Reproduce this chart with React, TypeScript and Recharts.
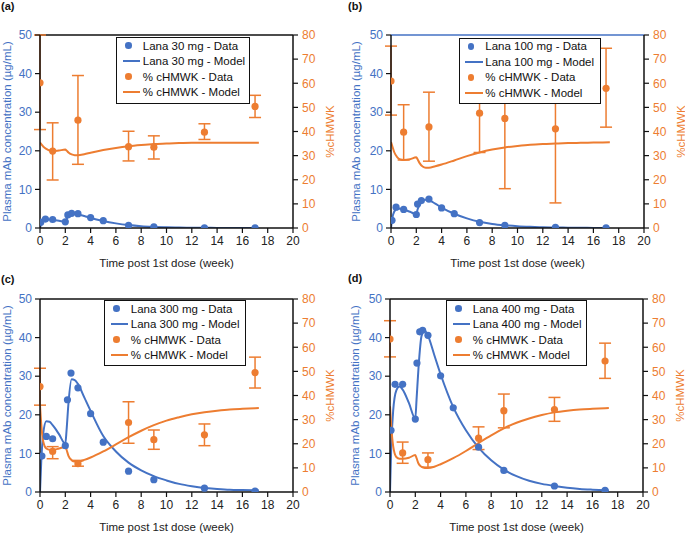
import React from 'react';
import {
  ComposedChart,
  Line,
  Scatter,
  XAxis,
  YAxis,
  ErrorBar,
  ReferenceLine,
  Legend,
} from 'recharts';

const BLUE = '#4472C4';
const ORANGE = '#ED7D31';

const X_TICKS = [0, 2, 4, 6, 8, 10, 12, 14, 16, 18, 20];
const LEFT_TICKS = [0, 10, 20, 30, 40, 50];
const RIGHT_TICKS = [0, 10, 20, 30, 40, 50, 60, 70, 80];

// PK data (plasma mAb, ug/mL)
const pkTimesA = [0.06, 0.43, 1, 2, 2.2, 2.5, 3, 4, 5, 7, 9, 13, 17];
const pkValsA = [1.5, 2.3, 2.2, 1.6, 3.4, 3.8, 3.7, 2.7, 1.9, 0.7, 0.3, 0.05, 0.02];
const pkTimesB = [0.08, 0.4, 1, 2, 2.1, 2.4, 3, 4, 5, 7, 9, 13, 17];
const pkValsB = [2.0, 5.4, 4.8, 3.5, 6.2, 7.1, 7.5, 5.2, 3.7, 1.4, 0.7, 0.2, 0.05];
const pkTimesC = [0.15, 0.5, 1, 2, 2.17, 2.45, 3, 4, 5, 7, 9, 13, 17];
const pkValsC = [9.3, 14.4, 13.8, 12.0, 23.9, 30.8, 27.0, 20.3, 12.9, 5.4, 3.2, 1.0, 0.26];
const pkTimesD = [0.08, 0.4, 1, 2, 2.13, 2.35, 2.58, 3, 4, 5, 7, 9, 13, 17];
const pkValsD = [16.0, 27.9, 27.9, 18.9, 33.4, 41.5, 41.9, 40.6, 30.1, 21.8, 11.6, 5.6, 1.56, 0.43];

// %cHMWK data with error bar ends
const pdTimes = [0, 1, 3, 7, 9, 13, 17];
const pdValsA = [60.2, 31.9, 44.7, 33.7, 33.5, 39.7, 50.4];
const pdHiA = [80, 43.6, 63.2, 40.1, 38.2, 43.2, 55];
const pdLoA = [40.8, 19.9, 26.4, 27.8, 28.6, 36.7, 45.8];
const pdValsB = [60.9, 39.7, 41.9, 47.6, 45.4, 41.1, 57.9];
const pdHiB = [75.4, 51.1, 56.3, 63.9, 74.5, 71.8, 74.5];
const pdLoB = [46.8, 28.2, 27.7, 31.3, 16.3, 10.4, 41.8];
const pdValsC = [43.7, 16.8, 11.7, 28.8, 21.7, 23.7, 49.5];
const pdHiC = [51.3, 18.8, 13.1, 37.4, 25.7, 28.2, 55.9];
const pdLoC = [36, 13.8, 10.7, 20.2, 17.7, 19.2, 43.1];
const pdValsD = [63.4, 16.2, 13.4, 22.3, 33.7, 34.2, 54.3];
const pdHiD = [71, 20.7, 16.2, 27, 40.6, 39.2, 61.7];
const pdLoD = [56, 11.9, 10.3, 17.6, 26.6, 29.3, 47.1];

// model curves
const modelTimes = [0, 0.1, 0.25, 0.5, 0.75, 1, 1.5, 2, 2.1, 2.25, 2.5, 2.75, 3, 3.5, 4, 5, 6, 7, 8, 9, 10, 11, 12, 13, 14, 15, 16, 17.3];
const pkModelA = [0, 1.0, 1.7, 2.1, 2.2, 2.1, 1.9, 1.6, 2.3, 3.0, 3.6, 3.6, 3.5, 3.1, 2.6, 1.8, 1.2, 0.75, 0.45, 0.28, 0.17, 0.1, 0.06, 0.04, 0.03, 0.02, 0.01, 0.01];
const pdModelA = [35.4, 34.8, 33.8, 32.8, 32.1, 31.8, 32.1, 32.5, 32.1, 31.3, 30.5, 30.2, 30.2, 30.6, 31.2, 32.3, 33.2, 33.9, 34.4, 34.8, 35.0, 35.2, 35.3, 35.3, 35.3, 35.3, 35.3, 35.3];
const pkModelB = [0, 2.5, 4.2, 5.0, 5.0, 4.8, 4.2, 3.6, 4.8, 6.0, 7.0, 7.3, 7.2, 6.3, 5.3, 3.7, 2.5, 1.6, 1.05, 0.7, 0.45, 0.3, 0.2, 0.13, 0.08, 0.05, 0.03, 0.02];
const pdModelB = [35.6, 34, 31.5, 29.3, 28.4, 28.2, 28.5, 29.3, 28.5, 27, 25.5, 25, 25, 25.6, 26.3, 28, 29.8, 31.3, 32.5, 33.4, 34, 34.5, 34.8, 35, 35.2, 35.3, 35.4, 35.5];
const pkModelC = [0, 8, 15, 18.3, 18.2, 17.3, 15, 12.5, 16, 23, 29.2, 29, 28, 24.5, 21, 14.5, 10.5, 7.6, 5.6, 4.1, 3.0, 2.1, 1.5, 1.05, 0.8, 0.6, 0.5, 0.4];
const pdModelC = [36, 28, 21, 18, 17.5, 17.5, 18, 18.8, 17.5, 15, 13.2, 12.6, 12.6, 13.3, 14.3, 16.8, 19.7, 22.7, 25.4, 27.7, 29.6, 31, 32.2, 33.1, 33.7, 34.2, 34.5, 34.8];
const pkModelD = [0, 12, 21, 26.3, 27.3, 26.5, 23, 19, 24, 32, 40.5, 41.8, 40.5, 35.5, 30.5, 22, 16, 11.5, 8.2, 5.8, 4.1, 2.9, 2.1, 1.55, 1.1, 0.8, 0.6, 0.4];
const pdModelD = [35.5, 27, 19, 14.5, 13.8, 13.8, 14.2, 15.3, 14, 11.8, 10.4, 10, 10, 10.5, 11.5, 14, 17, 20.3, 23.5, 26.4, 28.7, 30.5, 31.9, 33, 33.7, 34.2, 34.5, 34.8];

const FONT = '"Liberation Sans", Arial, Helvetica, sans-serif';

const VTitle = ({ px, py, text, color }: any) => (
  <text
    x={px}
    y={py}
    transform={`rotate(-90 ${px} ${py})`}
    textAnchor="middle"
    dominantBaseline="central"
    fill={color}
    fontSize={11.5}
    fontFamily={FONT}
  >
    {text}
  </text>
);

const XTitle = () => (
  <text x={166.5} y={263} textAnchor="middle" dominantBaseline="central" fill="#222" fontSize={11.5} fontFamily={FONT}>
    Time post 1st dose (week)
  </text>
);

const LegendBox = ({ dose }: { dose: string }) => {
  const rows = [
    { kind: 'dot', color: BLUE, text: `Lana ${dose} mg - Data` },
    { kind: 'line', color: BLUE, text: `Lana ${dose} mg - Model` },
    { kind: 'dot', color: ORANGE, text: '% cHMWK - Data' },
    { kind: 'line', color: ORANGE, text: '% cHMWK - Model' },
  ];
  return (
    <div
      style={{
        background: '#fff',
        border: '1.5px solid #111',
        boxSizing: 'border-box',
        width: '100%',
        height: '100%',
        fontFamily: FONT,
        fontSize: 11.5,
        color: '#111',
      }}
    >
      {rows.map((r, i) => (
        <div key={i} style={{ height: 15.5, display: 'flex', alignItems: 'center', position: 'relative' }}>
          {r.kind === 'dot' ? (
            <span
              style={{
                position: 'absolute',
                left: 8.3,
                width: 6.6,
                height: 6.6,
                borderRadius: '50%',
                background: r.color,
              }}
            />
          ) : (
            <span style={{ position: 'absolute', left: 5.5, width: 17.5, height: 2, background: r.color }} />
          )}
          <span style={{ position: 'absolute', left: 25.8, whiteSpace: 'nowrap' }}>{r.text}</span>
        </div>
      ))}
    </div>
  );
};

const dotShape = (color: string) => (p: any) => <circle cx={p.cx} cy={p.cy} r={3.6} fill={color} />;

function Panel(props: any) {
  const { ox, oy, tag, tagPos, dose, pkT, pkV, pdV, pdLo, pdHi, mPk, mPd, leg, topColor, yTitleX } = props;
  const pk = pkT.map((t: number, i: number) => ({ t, v: pkV[i] }));
  const pd = pdTimes.map((t, i) => ({ t, v: pdV[i], err: [pdV[i] - pdLo[i], pdHi[i] - pdV[i]] }));
  const model = modelTimes.map((t, i) => ({ t, pk: mPk[i], pd: mPd[i] }));

  return (
    <div style={{ position: 'absolute', left: ox, top: oy, width: 340, height: 272 }}>
      <div
        style={{
          position: 'absolute',
          left: tagPos[0],
          top: tagPos[1],
          fontFamily: FONT,
          fontWeight: 'bold',
          fontSize: 11,
          color: '#111',
        }}
      >
        {tag}
      </div>
      <ComposedChart width={340} height={272} margin={{ top: 35, right: 0, bottom: 0, left: 0 }} style={{ fontFamily: FONT }}>
        <XAxis
          type="number"
          dataKey="t"
          domain={[0, 20]}
          ticks={X_TICKS}
          height={44}
          tick={{ fill: '#222', fontSize: 12 }}
          tickSize={5}
          tickMargin={3}
          axisLine={{ stroke: '#111', strokeWidth: 1.5 }}
          tickLine={{ stroke: '#111', strokeWidth: 1.2 }}
          allowDataOverflow
          label={<XTitle />}
        />
        <YAxis
          yAxisId="left"
          width={40}
          domain={[0, 50]}
          ticks={LEFT_TICKS}
          tick={{ fill: BLUE, fontSize: 12 }}
          tickSize={5}
          tickMargin={3}
          axisLine={{ stroke: '#111', strokeWidth: 1.5 }}
          tickLine={{ stroke: '#111', strokeWidth: 1.2 }}
          allowDataOverflow
          label={<VTitle px={yTitleX} py={131.5} text="Plasma mAb concentration (µg/mL)" color={BLUE} />}
        />
        <YAxis
          yAxisId="right"
          orientation="right"
          width={47}
          domain={[0, 80]}
          ticks={RIGHT_TICKS}
          tick={{ fill: ORANGE, fontSize: 12 }}
          tickSize={5}
          tickMargin={4}
          axisLine={{ stroke: '#111', strokeWidth: 1.5 }}
          tickLine={{ stroke: '#111', strokeWidth: 1.2 }}
          allowDataOverflow
          label={<VTitle px={330} py={131.5} text="%cHMWK" color={ORANGE} />}
        />
        <ReferenceLine yAxisId="left" y={50} stroke={topColor} strokeWidth={1.5} />
        <Line
          yAxisId="left"
          data={model}
          dataKey="pk"
          type="monotone"
          stroke={BLUE}
          strokeWidth={2}
          dot={false}
          activeDot={false}
          isAnimationActive={false}
        />
        <Scatter yAxisId="left" data={pk} dataKey="v" shape={dotShape(BLUE)} isAnimationActive={false} />
        <Line
          yAxisId="right"
          data={model}
          dataKey="pd"
          type="monotone"
          stroke={ORANGE}
          strokeWidth={2}
          dot={false}
          activeDot={false}
          isAnimationActive={false}
        />
        <Scatter yAxisId="right" data={pd} dataKey="v" shape={dotShape(ORANGE)} isAnimationActive={false}>
          <ErrorBar dataKey="err" direction="y" width={6} stroke={ORANGE} strokeWidth={1.5} isAnimationActive={false} />
        </Scatter>
        <Legend
          layout="horizontal"
          align="center"
          verticalAlign="middle"
          content={() => <LegendBox dose={dose} />}
          wrapperStyle={{ position: 'absolute', left: leg[0], top: leg[1], width: leg[2], height: leg[3] }}
        />
      </ComposedChart>
    </div>
  );
}

export default function App() {
  return (
    <div style={{ position: 'absolute', left: 0, top: 0, width: 685, height: 534, background: '#fff', overflow: 'hidden' }}>
      <Panel
        ox={0} oy={0} tag="(a)" tagPos={[1, 0]} dose="30"
        pkT={pkTimesA} pkV={pkValsA} pdV={pdValsA} pdLo={pdLoA} pdHi={pdHiA}
        mPk={pkModelA} mPd={pdModelA} leg={[116, 37, 134, 67]} topColor="#111" yTitleX={7}
      />
      <Panel
        ox={350.5} oy={0} tag="(b)" tagPos={[-2.5, 0]} dose="100"
        pkT={pkTimesB} pkV={pkValsB} pdV={pdValsB} pdLo={pdLoB} pdHi={pdHiB}
        mPk={pkModelB} mPd={pdModelB} leg={[108, 37.5, 142, 66]} topColor={BLUE} yTitleX={5}
      />
      <Panel
        ox={0} oy={264} tag="(c)" tagPos={[1, 9]} dose="300"
        pkT={pkTimesC} pkV={pkValsC} pdV={pdValsC} pdLo={pdLoC} pdHi={pdHiC}
        mPk={pkModelC} mPd={pdModelC} leg={[104, 36, 142, 66]} topColor="#111" yTitleX={7}
      />
      <Panel
        ox={350} oy={264} tag="(d)" tagPos={[-2, 8]} dose="400"
        pkT={pkTimesD} pkV={pkValsD} pdV={pdValsD} pdLo={pdLoD} pdHi={pdHiD}
        mPk={pkModelD} mPd={pdModelD} leg={[96, 36, 141, 66]} topColor="#111" yTitleX={5}
      />
    </div>
  );
}
